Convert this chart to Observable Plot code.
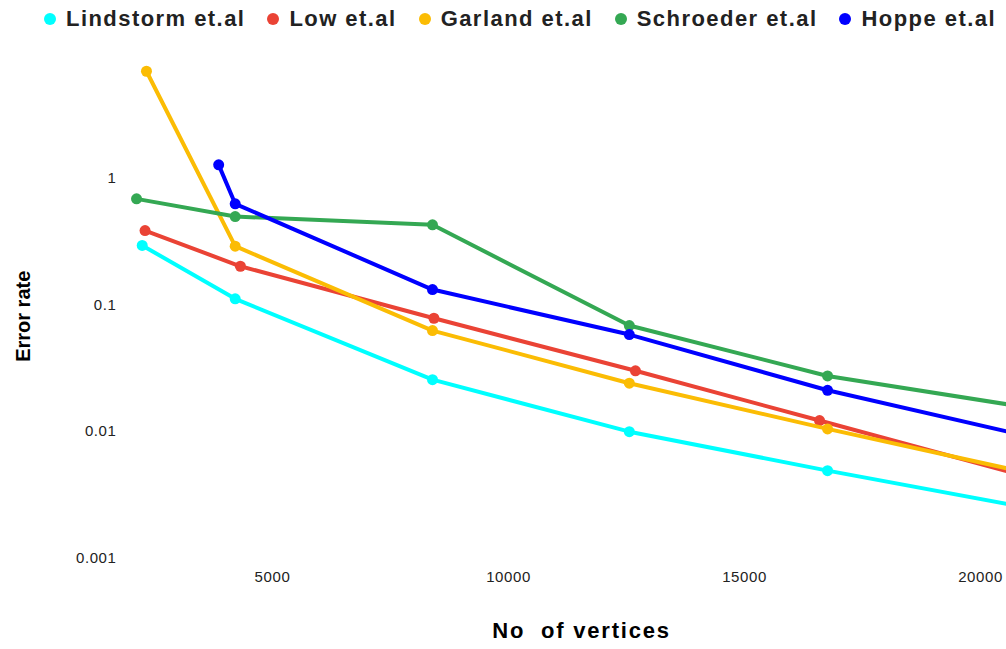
<!DOCTYPE html>
<html>
<head>
<meta charset="utf-8">
<script src="https://cdn.jsdelivr.net/npm/d3@7"></script>
<script src="https://cdn.jsdelivr.net/npm/@observablehq/plot@0.6"></script>
<style>
  body { margin: 0; background: #fff; width: 1006px; height: 649px; overflow: hidden;
         font-family: "Liberation Sans", Arial, sans-serif; }
  #legend { height: 38px; display: flex; align-items: center; padding-left: 44px; box-sizing: border-box; }
  .item { display: flex; align-items: center; margin-right: 22px; font-weight: bold; font-size: 22px;
          letter-spacing: 1.45px; color: #222; white-space: nowrap; }
  .sw { width: 12px; height: 12px; border-radius: 50%; margin-right: 10px; }
  #chart svg g[aria-label="x-axis tick label"] text,
  #chart svg g[aria-label="y-axis tick label"] text { letter-spacing: 0.6px; }
</style>
</head>
<body>
<div id="legend"></div>
<div id="chart"></div>
<script>
// ---- data ----
const seriesNames = ["Lindstorm et.al", "Low et.al", "Garland et.al", "Schroeder et.al", "Hoppe et.al"];
const seriesColors = ["#00ffff", "#ea4335", "#fbbc04", "#34a853", "#0000ff"];

const lindstormX = [2240, 4210, 8390, 12560, 16760, 21000];
const lindstormY = [0.294, 0.1115, 0.0257, 0.0100, 0.00493, 0.00251];

const lowX = [2300, 4320, 8420, 12690, 16590, 21000];
const lowY = [0.385, 0.2015, 0.0784, 0.0302, 0.01224, 0.0044];

const garlandX = [2330, 4210, 8390, 12560, 16760, 21000];
const garlandY = [6.95, 0.290, 0.0627, 0.0241, 0.01052, 0.00473];

const schroederX = [2120, 4210, 8390, 12560, 16760, 21000];
const schroederY = [0.685, 0.497, 0.428, 0.0687, 0.0275, 0.0155];

const hoppeX = [3860, 4210, 8390, 12560, 16760, 21000];
const hoppeY = [1.27, 0.626, 0.132, 0.0583, 0.0212, 0.0092];

const xTicks = [5000, 10000, 15000, 20000];
const yTicks = [0.001, 0.01, 0.1, 1];
const xLabel = "No  of vertices";
const yLabel = "Error rate";

// ---- build table ----
const allX = [lindstormX, lowX, garlandX, schroederX, hoppeX];
const allY = [lindstormY, lowY, garlandY, schroederY, hoppeY];
const rows = seriesNames.flatMap((s, i) => allX[i].map((x, j) => ({series: s, x, y: allY[i][j]})));

// ---- legend ----
const legend = document.getElementById("legend");
seriesNames.forEach((s, i) => {
  const it = document.createElement("div");
  it.className = "item";
  const sw = document.createElement("span");
  sw.className = "sw";
  sw.style.background = seriesColors[i];
  it.appendChild(sw);
  it.appendChild(document.createTextNode(s));
  legend.appendChild(it);
});

// ---- chart ----
const marks = [
  Plot.axisX({ticks: xTicks, tickSize: 0, tickPadding: 13, label: null, tickFormat: d => String(d), fill: "#222"}),
  Plot.axisY({ticks: yTicks, tickSize: 0, tickPadding: 4, label: null, tickFormat: d => String(d), fill: "#222"})
];
seriesNames.forEach(s => {
  const data = rows.filter(r => r.series === s);
  marks.push(Plot.line(data, {x: "x", y: "y", stroke: "series", strokeWidth: 4, clip: true}));
  marks.push(Plot.dot(data, {x: "x", y: "y", fill: "series", r: 5.5, clip: true}));
});
marks.push(Plot.text([yLabel], {frameAnchor: "left", text: d => d, rotate: -90, dx: -97, dy: 57,
  fontSize: 20, fontWeight: "bold", fill: "#000"}));
marks.push(Plot.text([xLabel], {frameAnchor: "bottom", text: d => d, dx: 18, dy: 79,
  fontSize: 22, fontWeight: "bold", fill: "#000"}));

const chart = Plot.plot({
  width: 1006,
  height: 611,
  marginLeft: 120,
  marginRight: 0,
  marginTop: 12.7,
  marginBottom: 91,
  x: {domain: [1780, 20551]},
  y: {type: "log", domain: [0.001, 10]},
  color: {domain: seriesNames, range: seriesColors},
  style: {fontFamily: "'Liberation Sans', Arial, sans-serif", fontSize: "15px", color: "#222", background: "#fff", overflow: "visible"},
  marks
});
document.getElementById("chart").appendChild(chart);

// title letter spacing / whitespace
d3.select(chart).selectAll("text").each(function() {
  const t = this.textContent;
  if (t === xLabel) { this.style.letterSpacing = "1.8px"; this.style.whiteSpace = "pre"; }
});
</script>
</body>
</html>
